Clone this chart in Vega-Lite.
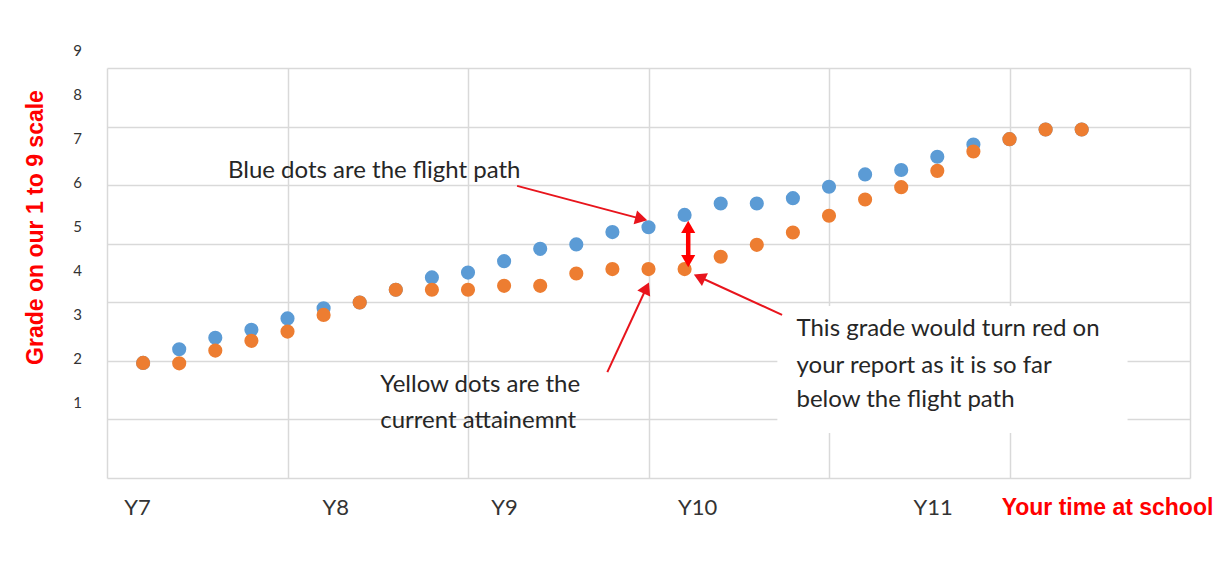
{
  "$schema": "https://vega.github.io/schema/vega-lite/v6.json",
  "width": 1083,
  "height": 410,
  "autosize": {"type": "none"},
  "padding": {"left": 107, "top": 68, "right": 37, "bottom": 85},
  "background": "#ffffff",
  "config": {"view": {"stroke": null}},
  "datasets": {
    "blue": [
      {"i": 1, "grade": 1.91}, {"i": 2, "grade": 2.22}, {"i": 3, "grade": 2.48}, {"i": 4, "grade": 2.66},
      {"i": 5, "grade": 2.92}, {"i": 6, "grade": 3.15}, {"i": 7, "grade": 3.28}, {"i": 8, "grade": 3.57},
      {"i": 9, "grade": 3.85}, {"i": 10, "grade": 3.96}, {"i": 11, "grade": 4.22}, {"i": 12, "grade": 4.50},
      {"i": 13, "grade": 4.60}, {"i": 14, "grade": 4.88}, {"i": 15, "grade": 4.99}, {"i": 16, "grade": 5.27},
      {"i": 17, "grade": 5.53}, {"i": 18, "grade": 5.53}, {"i": 19, "grade": 5.65}, {"i": 20, "grade": 5.91},
      {"i": 21, "grade": 6.19}, {"i": 22, "grade": 6.29}, {"i": 23, "grade": 6.59}, {"i": 24, "grade": 6.87},
      {"i": 25, "grade": 6.99}, {"i": 26, "grade": 7.21}, {"i": 27, "grade": 7.21}
    ],
    "orange": [
      {"i": 1, "grade": 1.91}, {"i": 2, "grade": 1.90}, {"i": 3, "grade": 2.19}, {"i": 4, "grade": 2.41},
      {"i": 5, "grade": 2.62}, {"i": 6, "grade": 3.00}, {"i": 7, "grade": 3.28}, {"i": 8, "grade": 3.57},
      {"i": 9, "grade": 3.57}, {"i": 10, "grade": 3.57}, {"i": 11, "grade": 3.66}, {"i": 12, "grade": 3.66},
      {"i": 13, "grade": 3.94}, {"i": 14, "grade": 4.04}, {"i": 15, "grade": 4.04}, {"i": 16, "grade": 4.04},
      {"i": 17, "grade": 4.32}, {"i": 18, "grade": 4.59}, {"i": 19, "grade": 4.87}, {"i": 20, "grade": 5.25},
      {"i": 21, "grade": 5.62}, {"i": 22, "grade": 5.90}, {"i": 23, "grade": 6.27}, {"i": 24, "grade": 6.71},
      {"i": 25, "grade": 6.99}, {"i": 26, "grade": 7.21}, {"i": 27, "grade": 7.21}
    ],
    "box": [{"i": 18.57, "i2": 28.27, "grade": 3.20, "grade2": 0.32}],
    "notes": [
      {"i": 3.35, "grade": 6.27, "text": "Blue dots are the flight path"},
      {"i": 7.57, "grade": 1.41, "text": "Yellow dots are the"},
      {"i": 7.57, "grade": 0.59, "text": "current attainemnt"},
      {"i": 19.1, "grade": 2.67, "text": "This grade would turn red on"},
      {"i": 19.1, "grade": 1.84, "text": "your report as it is so far"},
      {"i": 19.1, "grade": 1.06, "text": "below the flight path"}
    ],
    "arrows": [
      {"id": "a1", "i": 11.36, "grade": 5.93, "i2": 14.80, "grade2": 5.18},
      {"id": "a2", "i": 13.86, "grade": 1.70, "i2": 14.94, "grade2": 3.61},
      {"id": "a3", "i": 18.70, "grade": 3.00, "i2": 16.41, "grade2": 3.86},
      {"id": "a4", "i": 16.10, "grade": 5.00, "i2": 16.10, "grade2": 4.22}
    ],
    "heads": [
      {"id": "a1", "i": 14.80, "grade": 5.18},
      {"id": "a2", "i": 14.94, "grade": 3.61},
      {"id": "a3", "i": 16.41, "grade": 3.86},
      {"id": "a4top", "i": 16.10, "grade": 5.00},
      {"id": "a4bot", "i": 16.10, "grade": 4.22}
    ]
  },
  "resolve": {"axis": {"x": "independent", "y": "independent"}},
  "layer": [
    {
      "data": {"name": "blue"},
      "mark": {"type": "circle", "size": 200, "opacity": 1, "color": "#5B9BD5"},
      "encoding": {
        "x": {"field": "i", "type": "quantitative",
          "scale": {"domain": [0, 30], "nice": false, "zero": false},
          "axis": {"orient": "bottom", "values": [0, 5, 10, 15, 20, 25, 30], "grid": true, "gridColor": "#d9d9d9", "gridWidth": 1.5,
            "labels": false, "ticks": false, "domain": false, "title": null}},
        "y": {"field": "grade", "type": "quantitative",
          "scale": {"domain": [-0.704, 8.606], "nice": false, "zero": false},
          "axis": {"orient": "left", "values": [-0.704, 0.626, 1.956, 3.286, 4.616, 5.946, 7.276, 8.606], "grid": true, "gridColor": "#d9d9d9", "gridWidth": 1.5,
            "labels": false, "ticks": false, "domain": false, "title": null}}
      }
    },
    {
      "data": {"name": "box"},
      "mark": {"type": "rect", "color": "#ffffff"},
      "encoding": {
        "x": {"field": "i", "type": "quantitative", "axis": null},
        "x2": {"field": "i2"},
        "y": {"field": "grade", "type": "quantitative", "axis": null},
        "y2": {"field": "grade2"}
      }
    },
    {
      "data": {"name": "orange"},
      "mark": {"type": "circle", "size": 200, "opacity": 1, "color": "#ED7D31"},
      "encoding": {
        "x": {"field": "i", "type": "quantitative",
          "scale": {"domain": [0, 30], "nice": false, "zero": false},
          "axis": {"orient": "bottom", "values": [0.83, 6.32, 11.0, 16.35, 22.87],
            "labelExpr": "datum.value < 3 ? 'Y7' : datum.value < 8 ? 'Y8' : datum.value < 13 ? 'Y9' : datum.value < 19 ? 'Y10' : 'Y11'",
            "grid": false, "ticks": false, "domain": false,
            "labelFont": "Lato", "labelFontSize": 22, "labelColor": "#333333", "labelPadding": 29, "labelBaseline": "middle", "labelAlign": "center",
            "labelFlush": false, "labelOverlap": false,
            "title": "Your time at school", "titleColor": "#ff0000", "titleFont": "Liberation Sans", "titleFontWeight": "bold", "titleFontSize": 23,
            "titleX": 1000, "titleY": 29, "titleAlign": "center", "titleBaseline": "middle", "titleAngle": 0}},
        "y": {"field": "grade", "type": "quantitative",
          "scale": {"domain": [-0.704, 8.606], "nice": false, "zero": false},
          "axis": {"orient": "left", "values": [0.6, 1.6, 2.6, 3.6, 4.6, 5.6, 6.6, 7.6, 8.6],
            "labelExpr": "format(round(datum.value + 0.4), 'd')",
            "labelOffset": -17.6,
            "grid": false, "ticks": false, "domain": false,
            "labelFont": "Lato", "labelFontSize": 15, "labelColor": "#333333", "labelPadding": 30, "labelAlign": "center", "labelBaseline": "middle",
            "labelFlush": false, "labelOverlap": false,
            "title": "Grade on our 1 to 9 scale", "titleColor": "#ff0000", "titleFont": "Liberation Sans", "titleFontWeight": "bold", "titleFontSize": 23,
            "titleX": -72, "titleY": 159, "titleAlign": "center", "titleBaseline": "middle", "titleAngle": -90}}
      }
    },
    {
      "data": {"name": "notes"},
      "mark": {"type": "text", "align": "left", "baseline": "middle", "font": "Lato", "fontSize": 24, "color": "#262626"},
      "encoding": {
        "x": {"field": "i", "type": "quantitative", "axis": null},
        "y": {"field": "grade", "type": "quantitative", "axis": null},
        "text": {"field": "text"}
      }
    },
    {
      "data": {"name": "arrows"},
      "transform": [{"filter": "datum.id != 'a4'"}],
      "mark": {"type": "rule", "color": "#e8141c", "strokeWidth": 2},
      "encoding": {
        "x": {"field": "i", "type": "quantitative", "axis": null},
        "x2": {"field": "i2"},
        "y": {"field": "grade", "type": "quantitative", "axis": null},
        "y2": {"field": "grade2"}
      }
    },
    {
      "data": {"name": "arrows"},
      "transform": [{"filter": "datum.id == 'a4'"}],
      "mark": {"type": "rule", "color": "#ff0000", "strokeWidth": 4.5},
      "encoding": {
        "x": {"field": "i", "type": "quantitative", "axis": null},
        "x2": {"field": "i2"},
        "y": {"field": "grade", "type": "quantitative", "axis": null},
        "y2": {"field": "grade2"}
      }
    },
    {
      "data": {"name": "heads"},
      "transform": [{"filter": "datum.id == 'a1'"}],
      "mark": {"type": "point", "shape": "triangle-right", "filled": true, "opacity": 1, "color": "#e8141c", "size": 200, "angle": 14},
      "encoding": {
        "x": {"field": "i", "type": "quantitative", "axis": null},
        "y": {"field": "grade", "type": "quantitative", "axis": null}
      }
    },
    {
      "data": {"name": "heads"},
      "transform": [{"filter": "datum.id == 'a2'"}],
      "mark": {"type": "point", "shape": "triangle-right", "filled": true, "opacity": 1, "color": "#e8141c", "size": 200, "angle": 295},
      "encoding": {
        "x": {"field": "i", "type": "quantitative", "axis": null},
        "y": {"field": "grade", "type": "quantitative", "axis": null}
      }
    },
    {
      "data": {"name": "heads"},
      "transform": [{"filter": "datum.id == 'a3'"}],
      "mark": {"type": "point", "shape": "triangle-right", "filled": true, "opacity": 1, "color": "#e8141c", "size": 200, "angle": 205},
      "encoding": {
        "x": {"field": "i", "type": "quantitative", "axis": null},
        "y": {"field": "grade", "type": "quantitative", "axis": null}
      }
    },
    {
      "data": {"name": "heads"},
      "transform": [{"filter": "datum.id == 'a4top'"}],
      "mark": {"type": "point", "shape": "triangle-up", "filled": true, "opacity": 1, "color": "#ff0000", "size": 200},
      "encoding": {
        "x": {"field": "i", "type": "quantitative", "axis": null},
        "y": {"field": "grade", "type": "quantitative", "axis": null}
      }
    },
    {
      "data": {"name": "heads"},
      "transform": [{"filter": "datum.id == 'a4bot'"}],
      "mark": {"type": "point", "shape": "triangle-down", "filled": true, "opacity": 1, "color": "#ff0000", "size": 200},
      "encoding": {
        "x": {"field": "i", "type": "quantitative", "axis": null},
        "y": {"field": "grade", "type": "quantitative", "axis": null}
      }
    }
  ]
}
